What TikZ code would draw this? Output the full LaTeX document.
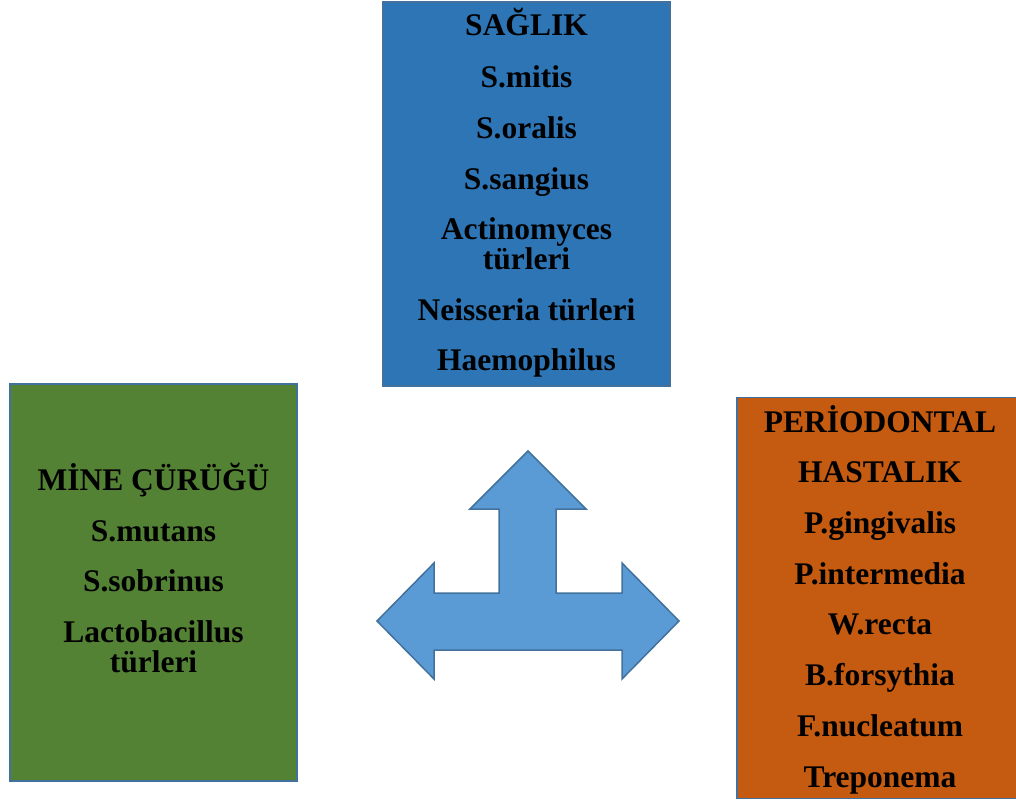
\documentclass[tikz,border=0pt]{standalone}
\usepackage{fontspec}
\setmainfont{Liberation Serif}
\definecolor{blueBox}{HTML}{2E75B6}
\definecolor{greenBox}{HTML}{548235}
\definecolor{orangeBox}{HTML}{C55A11}
\definecolor{edgeBlue}{HTML}{41719C}
\definecolor{arrowFill}{HTML}{5B9BD5}
\tikzset{
  box/.style={draw=edgeBlue, line width=1.5pt, rectangle, inner sep=0pt},
  lbl/.style={anchor=base, inner sep=0pt, font=\fontsize{31.5}{30}\selectfont\bfseries}
}
\begin{document}
\begin{tikzpicture}[x=1pt,y=-1pt]
\useasboundingbox (0,0) rectangle (1016,800);
\clip (0,0) rectangle (1016,800);
% boxes
\node[box, fill=blueBox, minimum width=287pt, minimum height=384pt] (top) at (526.5,194) {};
\node[box, fill=greenBox, minimum width=287pt, minimum height=397pt] (left) at (153.5,582.5) {};
\node[box, fill=orangeBox, minimum width=286pt, minimum height=401pt] (right) at (880,598) {};
% top texts
\node[lbl] (t1) at (526.5,36) {SAĞLIK};
\node[lbl] (t2) at (526.5,87) {S.mitis};
\node[lbl] (t3) at (526.5,138) {S.oralis};
\node[lbl] (t4) at (526.5,189) {S.sangius};
\node[lbl] (t5a) at (526.5,239) {Actinomyces};
\node[lbl] (t5b) at (526.5,269) {türleri};
\node[lbl] (t6) at (526.5,320) {Neisseria türleri};
\node[lbl] (t7) at (526.5,370) {Haemophilus};
% left texts
\node[lbl] (l1) at (153.5,490) {MİNE ÇÜRÜĞÜ};
\node[lbl] (l2) at (153.5,541) {S.mutans};
\node[lbl] (l3) at (153.5,591) {S.sobrinus};
\node[lbl] (l4a) at (153.5,642) {Lactobacillus};
\node[lbl] (l4b) at (153.5,672) {türleri};
% right texts
\node[lbl] (r1) at (880,432) {PERİODONTAL};
\node[lbl] (r2) at (880,482.7) {HASTALIK};
\node[lbl] (r3) at (880,533.4) {P.gingivalis};
\node[lbl] (r4) at (880,584) {P.intermedia};
\node[lbl] (r5) at (880,634.8) {W.recta};
\node[lbl] (r6) at (880,685.5) {B.forsythia};
\node[lbl] (r7) at (880,736) {F.nucleatum};
\node[lbl] (r8) at (880,787) {Treponema};
% three-way arrow
\draw[fill=arrowFill, draw=edgeBlue, line width=1.5pt, line join=miter]
  (528,451) -- (586,509) -- (556,509) -- (556,593) -- (622,593) -- (622,563)
  -- (679,621) -- (622,679) -- (622,650) -- (434,650) -- (434,679) -- (377,621)
  -- (434,563) -- (434,593) -- (499,593) -- (499,509) -- (470,509) -- cycle;
\end{tikzpicture}
\end{document}
